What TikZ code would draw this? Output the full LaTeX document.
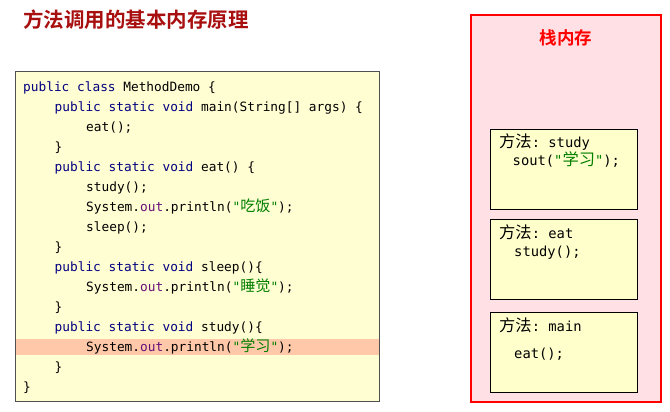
\documentclass[tikz,border=0pt]{standalone}
\usepackage{fontspec}
\setmonofont{DejaVu Sans Mono}
\newfontfamily\cjk[Scale=1.18]{Noto Sans CJK SC}
\IfFontExistsTF{Noto Sans CJK SC Bold}
  {\newfontfamily\cjkbf{Noto Sans CJK SC Bold}}
  {\newfontfamily\cjkbf[FakeBold=2]{Noto Sans CJK SC}}

\definecolor{kwblue}{HTML}{000080}
\definecolor{fieldpurple}{HTML}{660E7A}
\definecolor{strgreen}{HTML}{008000}
\definecolor{titlered}{HTML}{A80F0F}
\definecolor{codebg}{HTML}{FFFDD2}
\definecolor{codeline}{HTML}{505050}
\definecolor{framebg}{HTML}{FFFFCC}
\definecolor{stackbg}{HTML}{FFE1E5}
\definecolor{hilite}{HTML}{FFC9A9}

\newcommand\kw[1]{\textcolor{kwblue}{#1}}
\newcommand\fld[1]{\textcolor{fieldpurple}{#1}}
\newcommand\zh[1]{{\cjk #1}}
\newcommand\strlit[1]{\textcolor{strgreen}{\char34\zh{#1}\char34}}

\begin{document}
\begin{tikzpicture}[
    x=1pt, y=-1pt,
    code/.style={anchor=base west, inner sep=0, font=\fontsize{12.8}{15}\ttfamily},
    ftext/.style={anchor=base west, inner sep=0, font=\fontsize{13.8}{16}\ttfamily},
    frame/.style={draw, fill=framebg, line width=0.8pt, minimum width=147,
                  minimum height=#1, inner sep=0},
]
\useasboundingbox (0,0) rectangle (670,412);

\node[anchor=west, inner sep=0, font=\fontsize{20.5}{24}\cjkbf, text=titlered]
    (title) at (23,19.5) {方法调用的基本内存原理};

% code listing
\node[draw=codeline, fill=codebg, line width=0.9pt, minimum width=364,
      minimum height=330, inner sep=0] (code) at (197.5,236) {};
\node[fill=hilite, minimum width=362.5, minimum height=16, inner sep=0]
    (hl) at (197.5,346.5) {};

\node[code] (l1)  at (23,91.1)  {\kw{public class} MethodDemo \{};
\node[code] (l2)  at (54.5,111.2) {\kw{public static void} main(String[] args) \{};
\node[code] (l3)  at (86,131.2) {eat();};
\node[code] (l4)  at (54.5,151.3) {\}};
\node[code] (l5)  at (54.5,171.3) {\kw{public static void} eat() \{};
\node[code] (l6)  at (86,191.4) {study();};
\node[code] (l7)  at (86,211.4) {System.\fld{out}.println(\strlit{吃饭});};
\node[code] (l8)  at (86,231.5) {sleep();};
\node[code] (l9)  at (54.5,251.5) {\}};
\node[code] (l10) at (54.5,271.6) {\kw{public static void} sleep()\{};
\node[code] (l11) at (86,291.6) {System.\fld{out}.println(\strlit{睡觉});};
\node[code] (l12) at (54.5,311.7) {\}};
\node[code] (l13) at (54.5,331.7) {\kw{public static void} study()\{};
\node[code] (l14) at (86,351.8) {System.\fld{out}.println(\strlit{学习});};
\node[code] (l15) at (54.5,371.8) {\}};
\node[code] (l16) at (23,391.9) {\}};

% stack memory
\node[draw=red, fill=stackbg, line width=2.6pt, minimum width=190,
      minimum height=387, inner sep=0] (stack) at (566,208.5) {};
\node[font=\fontsize{17.5}{20}\cjkbf, text=red, inner sep=0]
    (stacktitle) at (566,37.5) {栈内存};

\node[frame=79.5] (fstudy) at (564,169.25) {};
\node[frame=79.5] (feat)   at (564,259.25) {};
\node[frame=80]   (fmain)  at (564,352.5)  {};

\node[ftext] (fstudy1) at (499,147.9) {\zh{方法}: study};
\node[ftext] (fstudy2) at (512.5,165.9) {sout(\strlit{学习});};
\node[ftext] (feat1)   at (499,238.2) {\zh{方法}: eat};
\node[ftext] (feat2)   at (514,256.6) {study();};
\node[ftext] (fmain1)  at (499,331.6) {\zh{方法}: main};
\node[ftext] (fmain2)  at (514,358.9) {eat();};
\end{tikzpicture}
\end{document}
